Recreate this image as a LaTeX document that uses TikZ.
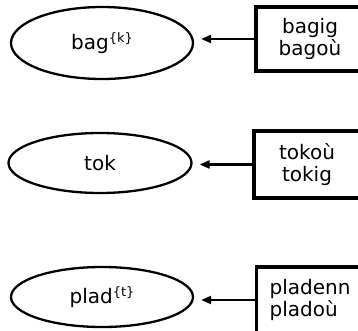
\documentclass[tikz,border=0pt]{standalone}
\usepackage{fontspec}
\setmainfont{DejaVu Sans}
\usetikzlibrary{shapes.geometric,arrows.meta}
\newcommand{\supbr}[1]{\raisebox{7.5pt}{\fontsize{13}{13}\selectfont\{#1\}}}
\begin{document}
\begin{tikzpicture}[x=1pt,y=-1pt,
  every node/.style={font=\fontsize{20}{22}\selectfont},
  ell/.style={ellipse,draw,line width=2.3pt,inner sep=0pt},
  wbox/.style={rectangle,draw,line width=3.2pt,inner sep=0pt,align=center},
  arr/.style={line width=2.3pt,-{Triangle[length=10pt,width=8pt]},shorten >=7pt}]
\useasboundingbox (0,0) rectangle (358,331);
\clip (0,0) rectangle (358,331);
% row 1
\node[ell,minimum width=182pt,minimum height=72pt] (e1) at (102,43) {bag\supbr{k}};
\node[wbox,minimum width=108pt,minimum height=64pt] (b1) at (310,39) {bagig\\bagoù};
\draw[arr] (b1.west) -- (b1.west -| e1.east);
% row 2
\node[ell,minimum width=183pt,minimum height=60pt] (e2) at (100,163) {tok};
\node[wbox,minimum width=106pt,minimum height=67pt] (b2) at (307,164.5) {tokoù\\tokig};
\draw[arr] (b2.west) -- (b2.west -| e2.east);
% row 3
\node[ell,minimum width=182pt,minimum height=60pt] (e3) at (102,297) {plad\supbr{t}};
\node[wbox,align=left,text width=82pt,inner xsep=13pt,minimum height=66pt,anchor=west] (b3) at (255,300) {pladenn\\pladoù};
\draw[arr] (b3.west) -- (b3.west -| e3.east);
\end{tikzpicture}
\end{document}
